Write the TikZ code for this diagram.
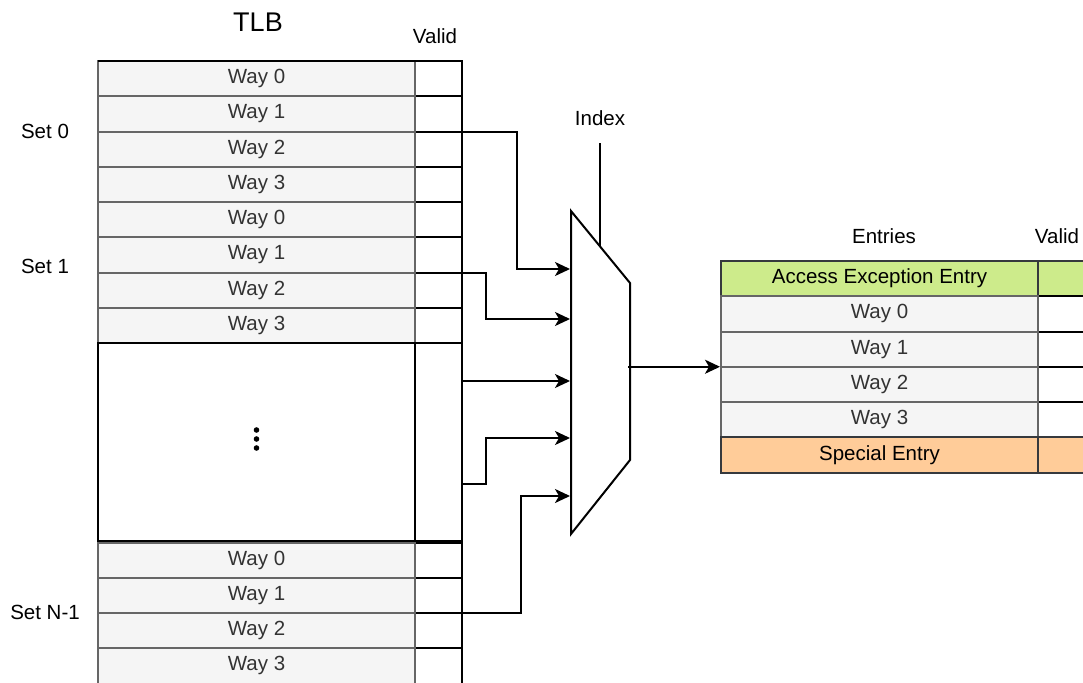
\documentclass[tikz,border=0pt]{standalone}
\usepackage{fontspec}
\setmainfont{Liberation Sans}
\usetikzlibrary{arrows.meta,calc}
\definecolor{cellfill}{HTML}{F5F5F5}
\definecolor{cellline}{HTML}{666666}
\definecolor{celltext}{HTML}{333333}
\definecolor{excfill}{HTML}{CDEB8B}
\definecolor{specfill}{HTML}{FFCC99}
\definecolor{darkline}{HTML}{36393D}

\begin{document}
\begin{tikzpicture}[x=1pt,y=-1pt,
  every node/.style={font=\fontsize{20.5}{24}\selectfont, inner sep=0pt, outer sep=0pt},
  way/.style={draw=cellline, fill=cellfill, text=celltext, line width=2pt,
    minimum width=317pt, minimum height=35.25pt, anchor=north west},
  validcell/.style={draw=black, fill=white, line width=2pt,
    minimum width=47pt, minimum height=35.25pt, anchor=north west},
  txt/.style={text=black},
  wire/.style={line width=2pt},
  arr/.style={wire, -{Stealth[length=15pt,width=14pt,inset=4pt]}},
]
\useasboundingbox (0,0) rectangle (1083,682);
\clip (0,0) rectangle (1083,682);

% ---- TLB: three sets of four ways, with a valid bit per way ----
\foreach \s/\top in {0/61, 1/202, 2/542.5} {
  \foreach \w in {0,...,3} {
    \node[validcell] (v\s\w) at (415,{\top+\w*35.25}) {};
    \node[way] (w\s\w) at (98,{\top+\w*35.25}) {Way \w};
  }
}
% elided sets in between
\node[validcell, minimum height=198pt] (vgap) at (415,343) {};
\node[draw=black, fill=white, line width=2pt, minimum width=317pt,
      minimum height=198pt, anchor=north west] (gap) at (98,343) {};
\foreach \d in {12,3,-6}
  \fill ([yshift=\d pt]gap.center) circle (2.8pt);
\draw[wire] (w00.north west) -- (v00.north east);

\node[txt, font=\fontsize{27}{32}\selectfont] (tlb) at (258,22) {TLB};
\node[txt] (validl) at (435,36) {Valid};
\node[txt] (set0) at (45,131) {Set 0};
\node[txt] (set1) at (45,266) {Set 1};
\node[txt] (setn) at (45,612) {Set N-1};

% ---- multiplexer ----
\coordinate (m1) at (571,211);
\coordinate (m2) at (630,283);
\coordinate (m3) at (630,460);
\coordinate (m4) at (571,534);
\draw[wire, fill=white] (m1) -- (m2) -- (m3) -- (m4) -- cycle;
\coordinate (in1) at (570,269);
\coordinate (in2) at (570,319);
\coordinate (in3) at (570,381);
\coordinate (in4) at (570,438);
\coordinate (in5) at (570,496);
\coordinate (mout) at (628,366.75);
\coordinate (idxend) at ($(m1)!0.49!(m2)$);
\coordinate (idx) at (idxend |- 0,143);
\node[txt] (index) at (600,118) {Index};
\draw[wire] (idx) -- (idxend);

% set outputs into the multiplexer
\draw[arr] (v02.north east) -| ([xshift=-53.5pt]in1) -- (in1);
\draw[arr] (v12.north east) -| ([xshift=-84pt]in2) -- (in2);
\draw[arr] (vgap.east |- in3) -- (in3);
\draw[arr] ([yshift=-42.3pt]vgap.east) -| ([xshift=-84pt]in4) -- (in4);
\draw[arr] (v22.north east) -| ([xshift=-49pt]in5) -- (in5);

% ---- selected set ----
\node[validcell, draw=darkline, fill=excfill, minimum width=80pt] (vexc) at (1038,261) {};
\foreach \k in {0,...,3}
  \node[validcell, minimum width=80pt] (rv\k) at (1038,{296.25+\k*35.25}) {};
\node[validcell, draw=darkline, fill=specfill, minimum width=80pt] (vspec) at (1038,437.25) {};

\node[way, draw=darkline, fill=excfill, text=black] (rexc) at (721,261) {Access Exception Entry};
\foreach \k in {0,...,3}
  \node[way] (rw\k) at (721,{296.25+\k*35.25}) {Way \k};
\node[way, draw=darkline, fill=specfill, text=black] (rspec) at (721,437.25) {Special Entry};

\node[txt] (entries) at (884,236) {Entries};
\node[txt] (validr) at (1057,236) {Valid};

\draw[arr] (mout) -- ([xshift=-1pt]rw2.north west);
\end{tikzpicture}
\end{document}
